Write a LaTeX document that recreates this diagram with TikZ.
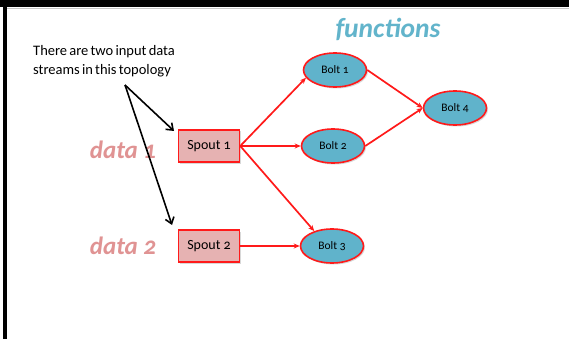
\documentclass[tikz,border=0pt]{standalone}
\usepackage{fontspec}
\setmainfont{Carlito}[Numbers=OldStyle]
\usetikzlibrary{shadows,arrows.meta,shapes.geometric}
\definecolor{spoutfill}{HTML}{E6B2B2}
\definecolor{boltfill}{HTML}{60B3CB}
\definecolor{edgered}{HTML}{FF1A1A}
\definecolor{datacol}{HTML}{E09393}
\definecolor{funccol}{HTML}{62B4CB}
\newcommand{\mytightspace}{\spaceskip 2.2pt plus 0.5pt minus 0.5pt\relax}
\tikzset{
  spoutbox/.style={draw=edgered, line width=1.5pt, fill=spoutfill, minimum width=61pt, minimum height=32pt, inner sep=0pt, font=\fontsize{14}{16}\selectfont, drop shadow={opacity=0.3, shadow xshift=1.5pt, shadow yshift=-1.5pt}},
  boltnode/.style={ellipse, draw=edgered, line width=1.6pt, fill=boltfill, minimum width=63pt, minimum height=34pt, inner sep=0pt, font=\fontsize{11.5}{13}\selectfont, drop shadow={opacity=0.3, shadow xshift=1.5pt, shadow yshift=-1.5pt}},
  redarrow/.style={draw=edgered, line width=1.7pt, -{Stealth[length=6pt,width=5pt]}},
  blackarrow/.style={draw=black, line width=1.6pt, -{Straight Barb[length=6pt,width=9pt]}},
  datalabel/.style={text=datacol, font=\fontsize{25}{27}\selectfont\bfseries\itshape},
}
\begin{document}
\begin{tikzpicture}[x=1pt,y=-1pt]
\useasboundingbox (0,0) rectangle (569,339);
\fill[white] (0,0) rectangle (569,339);
% frame
\fill[black] (0,0) rectangle (569,7.5);
\fill[black] (3,0) rectangle (7,339);
\draw[gray!45, line width=1pt] (7,9) -- (569,9);
% titles
\node[text=funccol, font=\fontsize{27.5}{30}\selectfont\bfseries\itshape] (func) at (388,29) {functions};
\node[anchor=north west, align=left, inner sep=0pt, font=\fontsize{14.5}{19}\selectfont\mytightspace] (note) at (33,45) {There are two input data\\streams in this topology};
\node[datalabel] (d1) at (123,150) {data 1};
\node[datalabel] (d2) at (123,246) {data 2};
% nodes
\node[spoutbox] (s1) at (209,146) {Spout 1};
\node[spoutbox] (s2) at (209,246) {Spout 2};
\node[boltnode] (b1) at (335,70) {Bolt 1};
\node[boltnode] (b2) at (333,146) {Bolt 2};
\node[boltnode] (b3) at (332,246) {Bolt 3};
\node[boltnode] (b4) at (455,108) {Bolt 4};
% red connectors
\draw[redarrow] (s1.east) -- (b1.195);
\draw[redarrow] (s1.east) -- (b2.west);
\draw[redarrow] (s1.east) -- (b3.140);
\draw[redarrow] (s2.east) -- (b3.west);
\draw[redarrow] (b1.east) -- (b4.west);
\draw[redarrow] (b2.east) -- (b4.west);
% black pointers
\coordinate (src) at (125,85);
\coordinate (t1) at (174,131);
\coordinate (t2) at (172,225);
\draw[blackarrow] (src) -- (t1);
\draw[blackarrow] (src) -- (t2);
\end{tikzpicture}
\end{document}
